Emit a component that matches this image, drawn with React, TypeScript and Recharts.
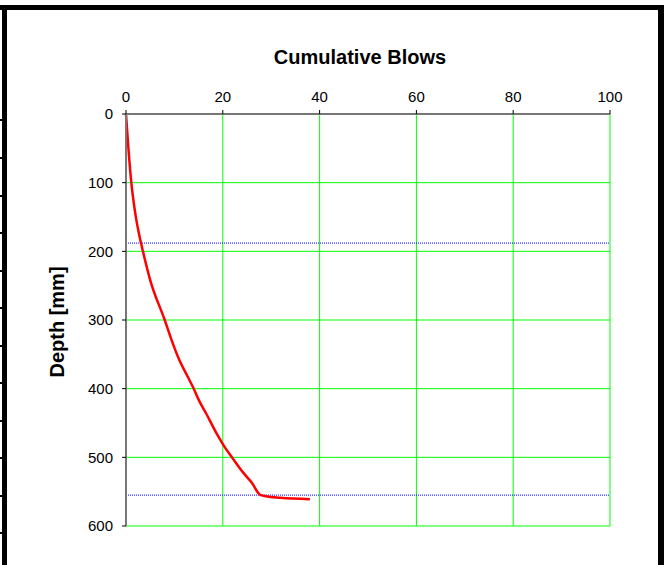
import React from "react"
import {
  CartesianGrid,
  Line,
  LineChart,
  ReferenceLine,
  XAxis,
  YAxis,
} from "recharts"

// DCP test: cumulative blows vs. penetration depth
const blows = [0, 0.5, 1.1, 1.9, 3.1, 3.5, 5.0, 8.0, 9.4, 11.0, 12.7, 14, 15, 16.7, 18.1, 19.1, 20.2, 22.2, 24.3, 26, 27.6, 28.4, 31.9, 38]
const depth = [0, 50, 100, 144, 188, 200, 242, 300, 329, 358, 382, 400, 416, 438, 457, 470, 483, 503, 523, 537, 554, 556, 559, 561]

const blowTicks = [0, 20, 40, 60, 80, 100]
const blowMinorTicks = [0, 4, 8, 12, 16, 20, 24, 28, 32, 36, 40, 44, 48, 52, 56, 60, 64, 68, 72, 76, 80, 84, 88, 92, 96, 100]
const depthTicks = [0, 100, 200, 300, 400, 500, 600]
const depthMinorTicks = [0, 20, 40, 60, 80, 100, 120, 140, 160, 180, 200, 220, 240, 260, 280, 300, 320, 340, 360, 380, 400, 420, 440, 460, 480, 500, 520, 540, 560, 580, 600]
const layerBoundaries = [188, 555]

// bits of the neighbouring sheet poking out left of the frame
const frameStubs = [119, 157, 195, 232, 270, 307, 345, 382, 420, 457, 495, 532]

const data = blows.map((b, i) => ({ blows: b, depth: depth[i] }))

const font = "'Liberation Sans', Arial, sans-serif"
const tickStyle = { fill: "#000", fontSize: 15, fontFamily: font }
const noTick = () => <g />

function Frame() {
  return (
    <svg
      width={664}
      height={565}
      style={{ position: "absolute", left: 0, top: 0, zIndex: 2, pointerEvents: "none" }}
    >
      <rect x={0} y={5} width={664} height={5} fill="#000" />
      <rect x={2} y={10} width={5} height={555} fill="#000" />
      <rect x={658} y={10} width={6} height={555} fill="#000" />
      {frameStubs.map((y) => (
        <rect key={y} x={0} y={y} width={2} height={2} fill="#000" />
      ))}
    </svg>
  )
}

export default function App() {
  return (
    <div
      style={{
        position: "absolute",
        left: 0,
        top: 0,
        width: 664,
        height: 565,
        backgroundColor: "#fff",
        fontFamily: font,
        overflow: "hidden",
      }}
    >
      <LineChart
        width={664}
        height={565}
        data={data}
        margin={{ top: 84, right: 54, bottom: 39, left: 0 }}
      >
        <CartesianGrid xAxisId="b" yAxisId="d" stroke="#00ff00" strokeWidth={1} />
        <XAxis
          xAxisId="b"
          orientation="top"
          type="number"
          dataKey="blows"
          domain={[0, 100]}
          ticks={blowTicks}
          height={30}
          tickSize={4}
          tickMargin={8}
          tick={tickStyle}
          axisLine={{ stroke: "#777", strokeWidth: 2 }}
          tickLine={{ stroke: "#000" }}
        />
        <XAxis
          xAxisId="bm"
          orientation="top"
          type="number"
          domain={[0, 100]}
          ticks={blowMinorTicks}
          height={0}
          tickSize={3}
          tick={noTick}
          axisLine={false}
          tickLine={{ stroke: "#000" }}
        />
        <YAxis
          yAxisId="d"
          type="number"
          dataKey="depth"
          reversed
          domain={[0, 600]}
          ticks={depthTicks}
          width={126}
          tickSize={4}
          tickMargin={9}
          tick={tickStyle}
          axisLine={{ stroke: "#777", strokeWidth: 2 }}
          tickLine={{ stroke: "#000" }}
        />
        <YAxis
          yAxisId="dm"
          type="number"
          reversed
          domain={[0, 600]}
          ticks={depthMinorTicks}
          width={0}
          tickSize={3}
          tick={noTick}
          axisLine={false}
          tickLine={{ stroke: "#000" }}
        />
        {layerBoundaries.map((d) => (
          <ReferenceLine
            key={d}
            xAxisId="b"
            yAxisId="d"
            y={d}
            stroke="#0000ff"
            strokeWidth={1}
            strokeDasharray="1 1"
          />
        ))}
        <Line
          xAxisId="b"
          yAxisId="d"
          type="monotone"
          dataKey="depth"
          stroke="#ff0000"
          strokeWidth={2.5}
          dot={false}
          isAnimationActive={false}
        />
      </LineChart>

      <div
        style={{
          position: "absolute",
          left: 0,
          top: 46,
          width: 720,
          textAlign: "center",
          fontWeight: "bold",
          fontSize: 20,
        }}
      >
        Cumulative Blows
      </div>
      <div
        style={{
          position: "absolute",
          left: 57,
          top: 322,
          transform: "translate(-50%, -50%) rotate(-90deg)",
          fontWeight: "bold",
          fontSize: 20,
          whiteSpace: "nowrap",
        }}
      >
        Depth [mm]
      </div>

      <Frame />
    </div>
  )
}
